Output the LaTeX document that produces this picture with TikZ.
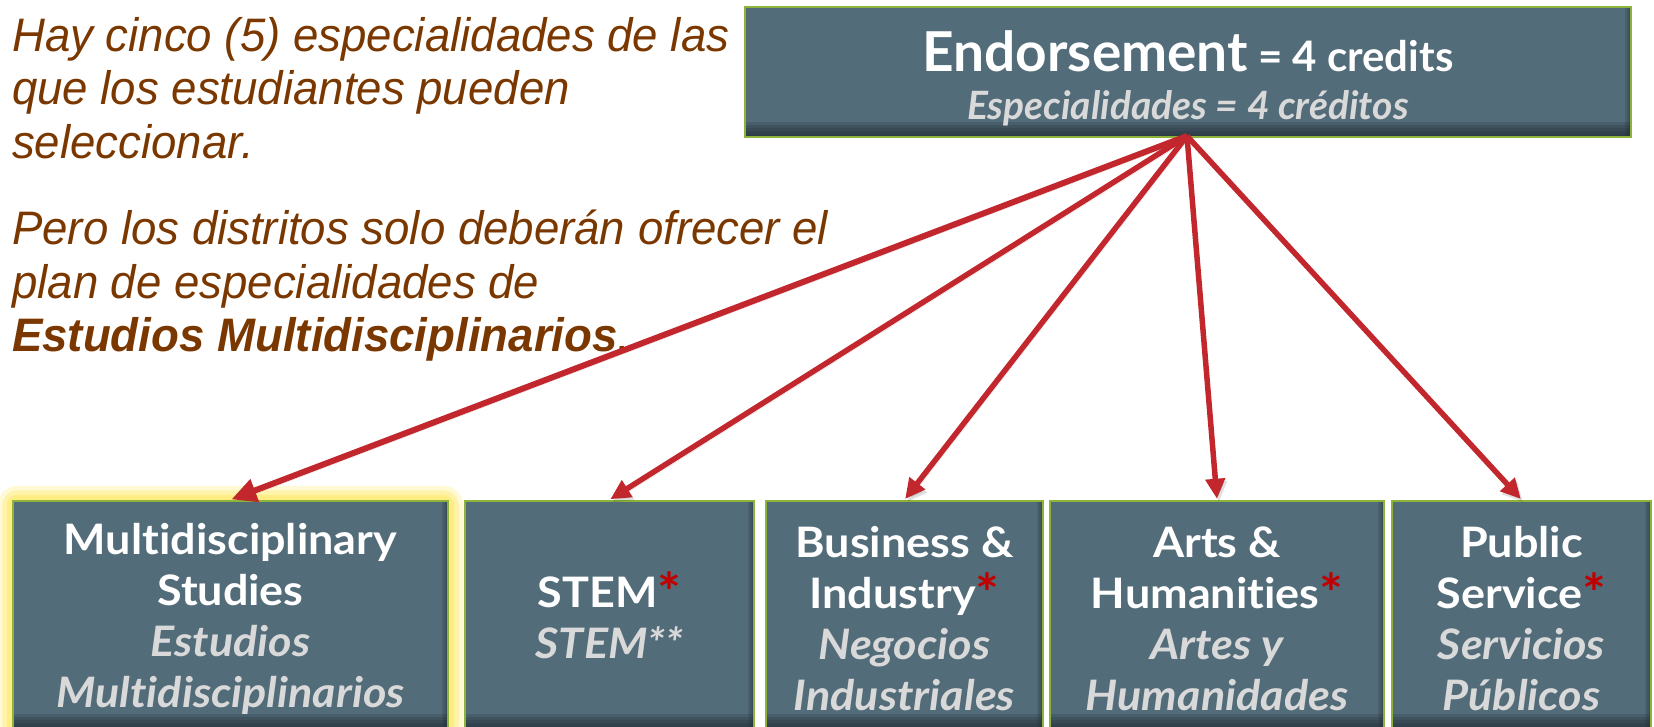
\documentclass[tikz,border=0pt]{standalone}
\usepackage{fontspec}
\usepackage{graphicx}
\setmainfont{Liberation Sans}
\newfontfamily\blurbfont{Liberation Sans}[FakeStretch=0.97]
\newfontfamily\boxfont{Lato}[Ligatures=NoCommon]
\newfontfamily\wideboxfont{Lato}[FakeStretch=1.07,Ligatures=NoCommon]
\usetikzlibrary{arrows.meta,backgrounds}
\definecolor{slate}{RGB}{83,108,122}
\definecolor{slatedark}{RGB}{30,42,50}
\definecolor{leaf}{RGB}{141,179,58}
\definecolor{arrowred}{RGB}{193,39,45}
\definecolor{brownink}{RGB}{122,56,0}
\definecolor{spanishgray}{RGB}{217,217,217}
\definecolor{starred}{RGB}{192,0,0}
\definecolor{glowyellow}{RGB}{255,236,120}
\newcommand{\redstar}{\textcolor{starred}{\raisebox{-4pt}{\scalebox{1.25}{*}}}}
\newcommand{\spanline}[1]{{\color{spanishgray}\itshape #1}}
\newcommand{\topstrut}{\rule{0pt}{39pt}}
\begin{document}
\begin{tikzpicture}[x=1pt,y=-1pt,
  box/.style={draw=leaf, line width=2.5pt, fill=slate, inner sep=0pt, align=center,
    text=white, font=\wideboxfont\bfseries\fontsize{42}{51}\selectfont,
    path picture={
      \foreach \h in {3,6,...,15}
        \fill[slatedark, opacity=0.2] ([yshift=\h pt]path picture bounding box.south west) rectangle (path picture bounding box.south east);
      \foreach \w in {2,4,6}
        \fill[slatedark, opacity=0.18] ([xshift=-\w pt]path picture bounding box.north east) rectangle (path picture bounding box.south east);
    }},
  blurb/.style={anchor=north west, inner sep=0pt, align=left, text=brownink,
    font=\blurbfont\itshape\fontsize{47}{53.5}\selectfont},
  feed/.style={draw=arrowred, line width=5.5pt, shorten >=1pt,
    -{Triangle[length=20pt,width=19pt]},
    preaction={draw=black, opacity=0.12, transform canvas={shift={(2pt,-3pt)}}}},
  glow/.style={draw=glowyellow, rounded corners=6pt}]
\useasboundingbox (0,0) rectangle (1654,727);
\clip (0,0) rectangle (1654,727);
\coordinate (H) at (1187,136);
\node[box, minimum width=886pt, minimum height=130pt, font=\boxfont\bfseries\fontsize{42}{48}\selectfont] (endorse) at (1188,72)
  {\rule{0pt}{54pt}{\fontsize{55}{60}\selectfont Endorsement} = 4 credits\\{\fontsize{39}{48}\selectfont\spanline{Especialidades = 4 créditos}}};
\node[box, minimum width=435pt, minimum height=228pt] (multi) at (230.5,615)
  {\topstrut Multidisciplinary\\Studies\\\spanline{Estudios}\\\spanline{Multidisciplinarios}};
\node[box, minimum width=289pt, minimum height=228pt] (stem) at (609.5,615)
  {STEM\redstar\\\spanline{STEM**}};
\node[box, minimum width=277pt, minimum height=228pt] (biz) at (904.5,615)
  {\topstrut Business \&\\Industry\redstar\\\spanline{Negocios}\\\spanline{Industriales}};
\node[box, minimum width=334pt, minimum height=228pt] (arts) at (1217,615)
  {\topstrut Arts \&\\Humanities\redstar\\\spanline{Artes y}\\\spanline{Humanidades}};
\node[box, minimum width=259pt, minimum height=228pt] (pub) at (1521.5,615)
  {\topstrut Public\\Service\redstar\\\spanline{Servicios}\\\spanline{Públicos}};
\begin{scope}[on background layer]
\draw[glow, line width=28pt, opacity=0.3] (multi.south west) rectangle (multi.north east);
\draw[glow, line width=19pt, opacity=0.45] (multi.south west) rectangle (multi.north east);
\draw[glow, line width=10pt, opacity=0.8] (multi.south west) rectangle (multi.north east);
\end{scope}
\node[blurb] (intro) at (12,17)
  {Hay cinco (5) especialidades de las\\que los estudiantes pueden\\seleccionar.};
\node[blurb] (offer) at (12,210)
  {Pero los distritos solo deberán ofrecer el\\plan de especialidades de\\\textbf{Estudios Multidisciplinarios}.};
\draw[feed, line width=6pt, -{Triangle[length=25pt,width=23pt]}] (H) -- (multi.north);
\draw[feed] (H) -- (stem.north);
\draw[feed] (H) -- (biz.north);
\draw[feed] (H) -- (arts.north);
\draw[feed] (H) -- (pub.north);
\end{tikzpicture}
\end{document}
